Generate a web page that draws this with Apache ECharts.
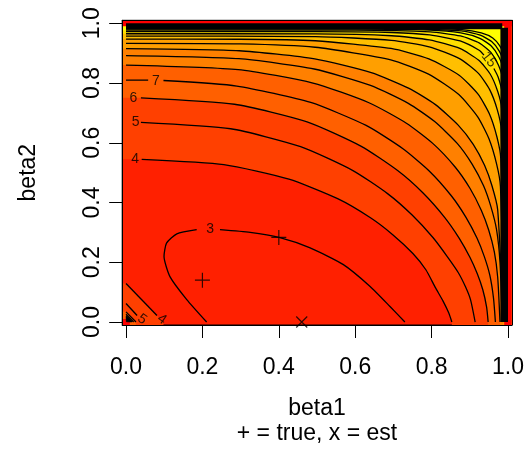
<!DOCTYPE html>
<html>
<head>
<meta charset="utf-8">
<script src="https://cdn.jsdelivr.net/npm/echarts@6/dist/echarts.min.js"></script>
<style>
html, body { margin: 0; padding: 0; background: #fff; }
#main { width: 527px; height: 466px; }
</style>
</head>
<body>
<div id="main"></div>
<script>
// a break in a contour line (where R put the level label)
const GAP = ['-', '-'];

// contour lines, [beta1, beta2]
const c3 = [[0.211,0],[0.159,0.075],[0.115,0.152],[0.0995,0.219],[0.106,0.264],[0.133,0.295],[0.185,0.309],GAP,
  [0.246,0.309],[0.325,0.300],[0.4005,0.283],[0.482,0.248],[0.569,0.192],[0.639,0.119],[0.691,0.052],[0.730,0]];
const c4 = [[0,0.545],GAP,[0.041,0.5445],[0.256,0.527],[0.4265,0.4785],[0.554,0.413],[0.640,0.349],[0.699,0.2916],
  [0.751,0.2294],[0.785,0.175],[0.81,0.115],[0.83,0.07],[0.845,0.03],[0.853,0]];
const c5 = [[0,0.669],GAP,[0.039,0.6685],[0.274,0.647],[0.457,0.587],[0.594,0.507],[0.6855,0.429],[0.749,0.358],
  [0.804,0.282],[0.841,0.219],[0.87,0.165],[0.889,0.117],[0.902,0.074],[0.914,0]];
const c6 = [[0,0.751],GAP,[0.039,0.7505],[0.284,0.729],[0.474,0.670],[0.616,0.588],[0.711,0.507],[0.777,0.4326],
  [0.834,0.3504],[0.872,0.281],[0.9006,0.216],[0.9196,0.1615],[0.934,0.108],[0.944,0.05],[0.948,0]];
const c7 = [[0,0.81],[0.058,0.8095],GAP,[0.098,0.8085],[0.290,0.790],[0.4835,0.735],[0.6286,0.658],[0.725,0.580],
  [0.793,0.5066],[0.851,0.4236],[0.8896,0.3513],[0.9187,0.281],[0.938,0.219],[0.9525,0.156],[0.962,0.08],[0.967,0]];
const c8 = [[0,0.86],[0.2937,0.845],[0.4895,0.800],[0.636,0.734],[0.734,0.6655],[0.803,0.598],[0.8615,0.519],
  [0.9007,0.447],[0.930,0.374],[0.9496,0.307],[0.9643,0.234],[0.973,0.15],[0.979,0]];
const c9 = [[0,0.892],[0.2955,0.8817],[0.4925,0.847],[0.640,0.792],[0.739,0.732],[0.808,0.671],[0.867,0.598],
  [0.906,0.5287],[0.936,0.456],[0.955,0.387],[0.970,0.309],[0.979,0.2],[0.985,0]];
const c10 = [[0,0.915],[0.2964,0.908],[0.494,0.881],[0.642,0.835],[0.741,0.782],[0.810,0.7277],[0.869,0.660],
  [0.909,0.5948],[0.9386,0.5245],[0.958,0.456],[0.973,0.3755],[0.988,0]];
const c11 = [[0,0.933],[0.3,0.9313],[0.495,0.9198],[0.693,0.8778],[0.792,0.8299],[0.8712,0.7613],[0.9207,0.6869],
  [0.9504,0.6127],[0.9702,0.5287],[0.9801,0.4547],[0.99,0]];
const c12 = [[0,0.947],[0.2973,0.9466],[0.4955,0.9415],[0.6937,0.9158],[0.7928,0.881],[0.8721,0.8263],[0.9216,0.7628],
  [0.9514,0.6965],[0.9712,0.6186],[0.9811,0.5473],[0.991,0]];
const c13 = [[0,0.957],[0.496,0.9555],[0.6944,0.9429],[0.7936,0.9212],[0.873,0.8819],[0.9226,0.8322],[0.9523,0.7772],
  [0.9722,0.7095],[0.9821,0.645],[0.992,0]];
const c14 = [[0,0.965],[0.4965,0.9646],[0.6951,0.9582],[0.7944,0.9443],[0.8738,0.9157],[0.9235,0.8762],[0.9533,0.8303],
  [0.9731,0.7715],[0.9831,0.7141],[0.993,0]];
const c15 = [[0,0.972],[0.5,0.9718],[0.6958,0.9692],[0.7952,0.961],[0.8747,0.9408],[0.9244,0.9098],[0.937,0.8936],GAP,
  [0.963,0.8487],[0.9741,0.8201],[0.9841,0.7686],[0.994,0]];
const c16 = [[0,0.977],[0.6,0.9769],[0.796,0.9712],[0.8756,0.9575],[0.9254,0.9338],[0.9552,0.9027],[0.9751,0.8597],
  [0.985,0.815],[0.995,0]];
const c17 = [[0,0.9805],[0.6,0.9805],[0.7968,0.9774],[0.8765,0.9677],[0.9263,0.9495],[0.9562,0.9239],[0.9761,0.8872],
  [0.986,0.8481],[0.996,0]];
const c18 = [[0,0.983],[0.7,0.983],[0.8774,0.9745],[0.9272,0.9602],[0.9571,0.9389],[0.9771,0.907],[0.987,0.8725],[0.997,0]];
const c19 = [[0,0.985],[0.75,0.985],[0.88,0.979],[0.93,0.968],[0.96,0.951],[0.978,0.925],[0.988,0.895],[0.998,0]];

// the little contours round the (0,0) corner
const k4 = [[0,0.129],[0.081,0.022],GAP,[0.098,0]];
const k5 = [[0,0.062],[0.029,0.022],GAP,[0.046,0]];
const k6 = [[0,0.034],[0.026,0]];
const kDense = [
  [[0,0.026],[0.02,0]], [[0,0.021],[0.016,0]], [[0,0.017],[0.013,0]],
  [[0,0.013],[0.01,0]], [[0,0.009],[0.007,0]], [[0,0.005],[0.004,0]]
];
// the dense bundles of contours next to beta = 1
const topBundle = [[0,0.99],[0.985,0.99]];
const rightBundle = [[0.99,0],[0.99,0.985]];
// cells where the surface drops back to the lowest colour
const topEdge = [[-0.01,0.99],[1.01,0.99]];
const rightEdge = [[0.99,1.01],[1.01,1.01]];
const cornerCell = [[-0.01,0.01],[0.01,0.01]];

// heat colours above each even level
const bandLevels = [c4, c6, c8, c10, c12, c14, c16];
const bandColors = ['#FF4000','#FF6000','#FF8000','#FF9F00','#FFBF00','#FFDF00','#FFFF00'];

const contourLabels = [
  ['3', 0.22, 0.311, 0], ['4', 0.024, 0.545, 0], ['5', 0.025, 0.669, 0], ['6', 0.019, 0.751, 0],
  ['7', 0.078, 0.808, 0], ['15', 0.95, 0.878, -52], ['5', 0.042, 0.009, -35], ['4', 0.094, 0.009, -35]
];

const trueParams = [[0.2, 0.14], [0.4, 0.283]];
const estParams = [[0.46, 0.0]];

const tickValues = [0, 0.2, 0.4, 0.6, 0.8, 1.0];
const tickLabels = ['0.0', '0.2', '0.4', '0.6', '0.8', '1.0'];

const X_MIN = -0.01, X_MAX = 1.01, Y_MIN = -0.01, Y_MAX = 1.01;
const FONT = 'Liberation Sans, Arial, Helvetica, sans-serif';

const chart = echarts.init(document.getElementById('main'));

function solid(pts) {
  return pts.filter(p => p !== GAP);
}
// region above a contour, carried out to the plot edges
function above(pts) {
  const p = solid(pts);
  const first = p[0], last = p[p.length - 1];
  return [[X_MIN, first[1]]].concat(p, [[last[0], Y_MIN], [X_MAX, Y_MIN]]);
}
function below(pts) {
  const p = solid(pts);
  const first = p[0], last = p[p.length - 1];
  return [[X_MIN, first[1]]].concat(p, [[last[0], Y_MIN]]);
}
function fill(data, color, origin) {
  return {
    type: 'line', data: data, showSymbol: false, silent: true, animation: false,
    lineStyle: { width: 0 }, areaStyle: { color: color, opacity: 1, origin: origin }
  };
}
function line(data, width) {
  return {
    type: 'line', data: data, showSymbol: false, silent: true, animation: false,
    smooth: 0.2, connectNulls: false,
    lineStyle: { color: '#000', width: width || 1.3 }
  };
}

let series = [];
bandLevels.forEach((c, i) => {
  series.push(fill(above(c), bandColors[i], 'end'));
});
series.push(fill(topEdge, '#FF0000', 'end'));
series.push(fill(rightEdge, '#FF0000', 'start'));
series.push(fill(below(k4), '#FF4000', 'start'));
series.push(fill(below(k6), '#FF6000', 'start'));
series.push(fill(cornerCell, '#FF0000', 'start'));

[c3, c4, c5, c6, c7, c8, c9, c10, c11, c12, c13, c14, c15, c16, c17, c18, c19, k4, k5, k6]
  .forEach(c => series.push(line(c)));
kDense.forEach(c => series.push(line(c)));
let tb = line(topBundle, 6); tb.smooth = false; series.push(tb);
let rb = line(rightBundle, 7.6); rb.smooth = false; series.push(rb);

series.push({
  type: 'scatter', silent: true, animation: false, symbolSize: 1,
  itemStyle: { color: 'rgba(0,0,0,0)' },
  data: contourLabels.map(l => ({
    name: l[0], value: [l[1], l[2]],
    label: { rotate: l[3] }
  })),
  label: {
    show: true, position: 'inside', formatter: '{b}',
    color: '#000', fontSize: 14, fontFamily: FONT
  },
  z: 5
});
series.push({
  type: 'scatter', silent: true, animation: false,
  symbol: 'path://M0,-1L0,1M-1,0L1,0', symbolSize: 15,
  itemStyle: { color: 'rgba(0,0,0,0)', borderColor: '#000', borderWidth: 1.2 },
  data: trueParams, z: 6
});
series.push({
  type: 'scatter', silent: true, animation: false,
  symbol: 'path://M-1,-1L1,1M-1,1L1,-1', symbolSize: 11,
  itemStyle: { color: 'rgba(0,0,0,0)', borderColor: '#000', borderWidth: 1.2 },
  data: estParams, z: 6
});

const option = {
  backgroundColor: '#fff',
  animation: false,
  textStyle: { fontFamily: FONT },
  title: {
    text: '+ = true, x = est',
    left: 317, top: 422, textAlign: 'center', padding: 0,
    textStyle: { fontSize: 23, fontWeight: 'normal', color: '#000', fontFamily: FONT }
  },
  grid: {
    left: 122.2, right: 14.9, top: 20.3, bottom: 141,
    show: true, backgroundColor: '#FF2000', borderColor: '#000', borderWidth: 1
  },
  xAxis: [{
    type: 'value', min: X_MIN, max: X_MAX, z: 10,
    name: 'beta1', nameLocation: 'middle', nameGap: 72,
    nameTextStyle: { fontSize: 23, color: '#000', fontFamily: FONT, verticalAlign: 'top' },
    axisLine: { show: true, onZero: false, lineStyle: { color: '#000', width: 1 } },
    axisTick: { show: true, length: 13, customValues: tickValues, lineStyle: { color: '#000' } },
    axisLabel: {
      customValues: tickValues, margin: 31, fontSize: 23, color: '#000', fontFamily: FONT,
      formatter: v => tickLabels[tickValues.indexOf(v)] || v.toFixed(1)
    },
    splitLine: { show: false }
  }, {
    type: 'value', min: X_MIN, max: X_MAX, position: 'top', z: 10,
    axisLine: { show: true, onZero: false, lineStyle: { color: '#000', width: 1 } },
    axisTick: { show: false }, axisLabel: { show: false }, splitLine: { show: false }
  }],
  yAxis: [{
    type: 'value', min: Y_MIN, max: Y_MAX, z: 10,
    name: 'beta2', nameLocation: 'middle', nameGap: 82,
    nameTextStyle: { fontSize: 23, color: '#000', fontFamily: FONT },
    axisLine: { show: true, onZero: false, lineStyle: { color: '#000', width: 1 } },
    axisTick: { show: true, length: 13, customValues: tickValues, lineStyle: { color: '#000' } },
    axisLabel: {
      customValues: tickValues, margin: 18, rotate: 90, fontSize: 23, color: '#000', fontFamily: FONT,
      formatter: v => tickLabels[tickValues.indexOf(v)] || v.toFixed(1)
    },
    splitLine: { show: false }
  }, {
    type: 'value', min: Y_MIN, max: Y_MAX, position: 'right', z: 10,
    axisLine: { show: true, onZero: false, lineStyle: { color: '#000', width: 1 } },
    axisTick: { show: false }, axisLabel: { show: false }, splitLine: { show: false }
  }],
  series: series
};
chart.setOption(option);
</script>
</body>
</html>
